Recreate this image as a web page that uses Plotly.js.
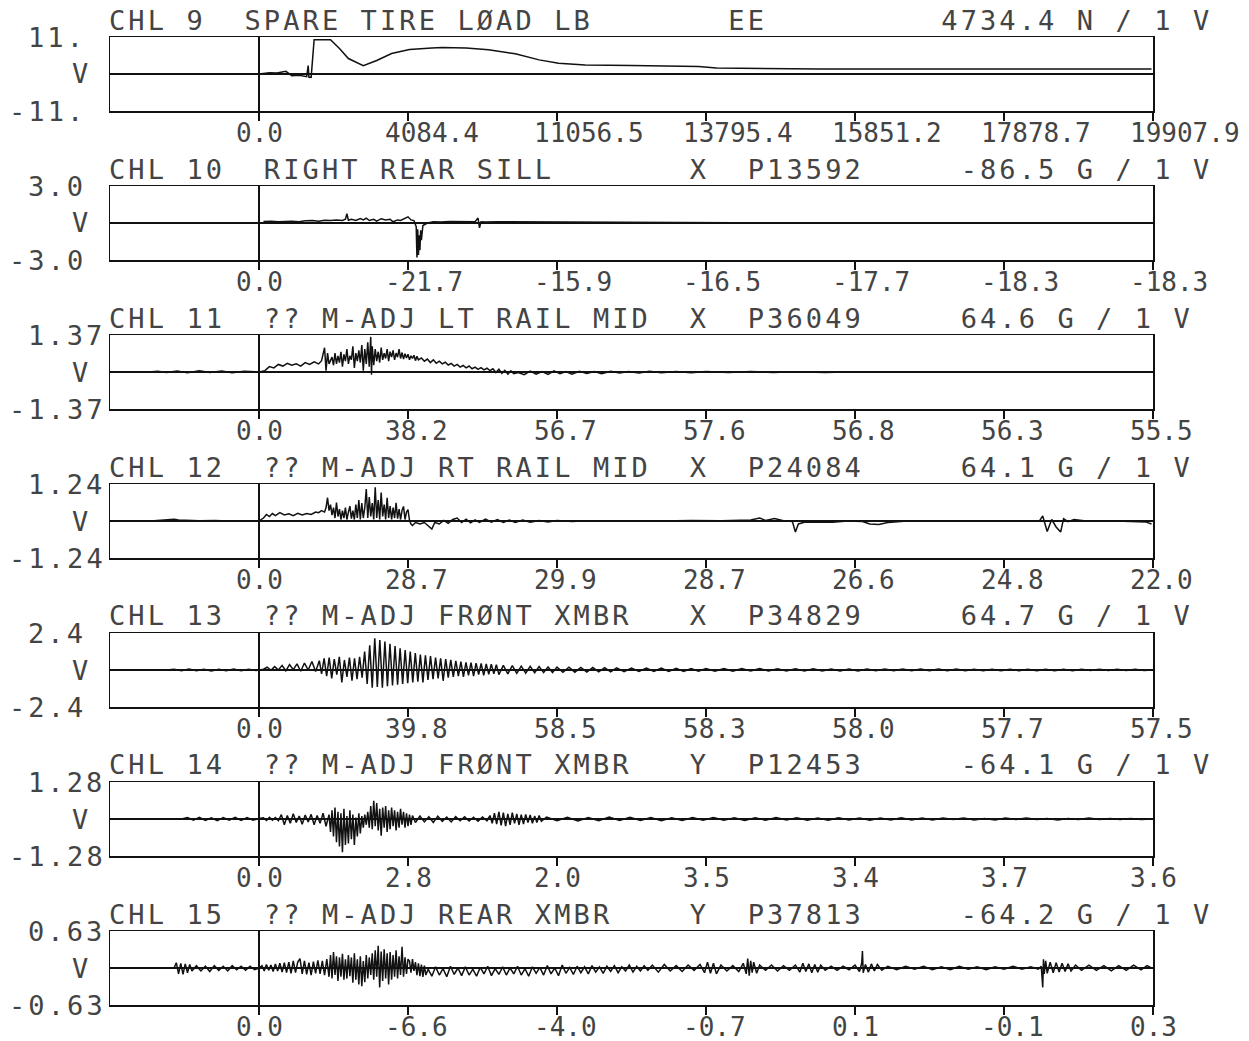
<!DOCTYPE html>
<html><head><meta charset="utf-8">
<script src="https://cdn.plot.ly/plotly-3.0.1.min.js"></script>
<style>
html,body{margin:0;padding:0;background:#fff;}
#chart{width:1249px;height:1041px;}
</style></head><body><div id="chart"></div>
<script>
// ---------------- DATA ----------------
const ch9X = [0, 0.07, 0.12, 0.18, 0.22, 0.27, 0.32, 0.33, 0.335, 0.34, 0.35, 0.37, 0.40, 0.48, 0.54, 0.60, 0.70, 0.79, 0.89, 1.01, 1.16, 1.23, 1.39, 1.54, 1.72, 1.88, 2.01, 2.19, 2.50, 2.95, 3.07, 3.76, 4.50, 5.99];
const ch9Y = [0, 0.4, 0.3, 0.8, -0.5, -0.4, -0.8, 2.5, -1.1, -0.9, -1.0, 10.2, 10.2, 10.2, 7.6, 4.6, 2.5, 4.0, 6.1, 7.3, 7.7, 7.9, 7.7, 7.2, 6.0, 4.2, 3.2, 2.7, 2.5, 2.2, 1.8, 1.5, 1.5, 1.5];

const ch10X = [0.03, 0.08, 0.13, 0.18, 0.22, 0.27, 0.31, 0.36, 0.40, 0.44,
 0.48, 0.52, 0.56, 0.58, 0.59, 0.60, 0.62, 0.65, 0.68, 0.70,
 0.72, 0.74, 0.77, 0.79, 0.82, 0.85, 0.88, 0.90, 0.93, 0.95,
 0.98, 1.00, 1.02, 1.04, 1.055, 1.06, 1.065, 1.07, 1.075, 1.08,
 1.085, 1.09, 1.10, 1.13, 1.17, 1.22, 1.28, 1.34, 1.40, 1.45,
 1.47, 1.48, 1.49, 1.52, 1.60, 1.75, 1.90, 2.10, 2.30, 2.55,
 2.80, 3.20, 3.60, 4.50, 5.99];
const ch10Y = [0.12, 0.15, 0.10, 0.12, 0.15, 0.10, 0.18, 0.20, 0.15, 0.22,
 0.20, 0.25, 0.20, 0.30, 0.75, 0.22, 0.30, 0.20, 0.35, 0.25,
 0.40, 0.20, 0.30, 0.15, 0.35, 0.25, 0.30, 0.10, 0.25, 0.20,
 0.35, 0.50, 0.25, 0.20, -0.30, -2.80, -0.50, -2.60, -1.00, -2.20,
 -0.60, -1.40, -0.20, 0.00, 0.10, 0.08, 0.12, 0.10, 0.12, 0.10,
 0.40, -0.40, 0.10, 0.08, 0.10, 0.10, 0.08, 0.08, 0.06, 0.06,
 0.04, 0.03, 0.02, 0.02, 0.02];

const ch11X = [-1.0, -0.74, -0.68, -0.62, -0.55, -0.48, -0.40, -0.33, -0.25, -0.18, -0.10, -0.04, 0.0,
 0.04, 0.07, 0.10, 0.13, 0.16, 0.19, 0.22, 0.25, 0.28, 0.31, 0.34, 0.37, 0.40, 0.42, 0.44, 0.45, 0.46, 0.47,
 0.49, 0.50, 0.51, 0.52, 0.53, 0.54, 0.55, 0.56, 0.57, 0.58, 0.59, 0.60, 0.61, 0.62, 0.63, 0.64, 0.65, 0.66, 0.67, 0.68, 0.69, 0.70, 0.71, 0.72, 0.73, 0.74, 0.75, 0.755,
 0.76, 0.77, 0.78, 0.79, 0.80, 0.81, 0.82, 0.83, 0.84, 0.85, 0.86, 0.87, 0.88, 0.89, 0.90, 0.91, 0.92, 0.93, 0.94, 0.95, 0.96, 0.97, 0.98, 0.99, 1.00, 1.01, 1.02, 1.03, 1.04, 1.05, 1.06, 1.07,
 1.09, 1.11, 1.13, 1.15, 1.17, 1.19, 1.21, 1.23, 1.25, 1.27, 1.29, 1.31, 1.33, 1.35, 1.37, 1.39, 1.41, 1.43, 1.45, 1.47, 1.49, 1.51, 1.53, 1.55, 1.57, 1.59, 1.61, 1.63, 1.65, 1.67, 1.69, 1.71,
 1.74, 1.78, 1.82, 1.86, 1.90, 1.94, 1.98, 2.02, 2.06, 2.10, 2.15, 2.20, 2.25, 2.30, 2.36, 2.42, 2.48, 2.55, 2.62, 2.70, 2.80, 2.90, 3.00, 3.15, 3.30, 3.45, 3.60, 3.80, 4.00, 4.25, 4.50, 4.75, 5.00, 5.30, 5.60, 5.99];
const ch11Y = [0, 0, 0.03, -0.02, 0.04, -0.03, 0.05, -0.02, 0.04, -0.03, 0.03, 0.02, 0,
 0.05, 0.20, 0.15, 0.28, 0.22, 0.32, 0.25, 0.30, 0.22, 0.35, 0.28, 0.38, 0.30, 0.42, 0.90, 0.05, 0.70, 0.30,
 0.55, 0.25, 0.70, 0.30, 0.60, 0.35, 0.75, 0.20, 0.65, 0.40, 0.85, 0.30, 0.60, 0.45, 0.95, 0.15, 0.70, 0.40, 0.80, 0.35, 1.00, 0.05, 0.85, 0.30, 1.10, 0.20, 1.30, -0.10,
 0.95, 0.25, 0.85, 0.40, 0.75, 0.35, 0.90, 0.45, 0.70, 0.50, 0.85, 0.40, 0.75, 0.55, 0.80, 0.45, 0.70, 0.55, 0.85, 0.50, 0.72, 0.48, 0.68, 0.52, 0.66, 0.45, 0.60, 0.50, 0.62, 0.42, 0.58, 0.45,
 0.52, 0.40, 0.48, 0.35, 0.45, 0.32, 0.40, 0.30, 0.36, 0.26, 0.32, 0.22, 0.28, 0.18, 0.24, 0.15, 0.22, 0.12, 0.18, 0.10, 0.16, 0.08, 0.14, 0.05, 0.12, -0.02, 0.10, -0.05, 0.06, -0.08, 0.04, -0.06,
 -0.02, -0.10, 0.03, -0.08, 0.02, -0.09, 0.04, -0.06, 0.02, -0.08, 0.03, -0.05, 0.02, -0.06, 0.03, -0.04, 0.02, -0.04, 0.03, -0.03, 0.02, -0.03, 0.02, -0.02, 0.02, -0.02, 0.01, -0.02, 0.01, -0.01, 0.01, -0.01, 0.01, -0.01, 0.01, 0];

const ch12X = [-1.0, -0.85, -0.75, -0.65, -0.60, -0.57, -0.54, -0.48, -0.40, -0.30, -0.20, -0.10, 0.0,
 0.03, 0.05, 0.07, 0.09, 0.11, 0.14, 0.17, 0.20, 0.23, 0.26, 0.29, 0.32, 0.35, 0.38, 0.40, 0.42, 0.44, 0.45,
 0.46, 0.47, 0.48, 0.49, 0.50, 0.51, 0.52, 0.53, 0.54, 0.55, 0.56, 0.57, 0.58, 0.59, 0.60, 0.61, 0.62, 0.63, 0.64, 0.65,
 0.66, 0.67, 0.68, 0.69, 0.70, 0.71, 0.72, 0.73, 0.74, 0.75, 0.76, 0.77, 0.78, 0.79, 0.80, 0.81, 0.82, 0.83, 0.84, 0.85,
 0.86, 0.87, 0.88, 0.89, 0.90, 0.91, 0.92, 0.93, 0.94, 0.95, 0.96, 0.97, 0.98, 0.99, 1.00, 1.01, 1.02, 1.03,
 1.05, 1.08, 1.11, 1.14, 1.16, 1.18, 1.21, 1.24, 1.27, 1.30, 1.33, 1.36, 1.39, 1.42, 1.45, 1.48, 1.52, 1.56, 1.60, 1.64,
 1.68, 1.72, 1.77, 1.82, 1.88, 1.94, 2.00, 2.10, 2.20, 2.35, 2.50, 2.70, 2.90, 3.10, 3.30, 3.36, 3.40, 3.46, 3.52, 3.58,
 3.60, 3.62, 3.66, 3.75, 3.85, 3.95, 4.05, 4.10, 4.16, 4.22, 4.35, 4.60, 4.90, 5.10, 5.24, 5.26, 5.29, 5.32, 5.35, 5.38,
 5.40, 5.43, 5.47, 5.55, 5.70, 5.85, 5.95, 5.99];
const ch12Y = [0, 0.01, -0.01, 0.02, 0.04, 0.06, 0.03, 0.02, 0.01, 0.02, 0.0, 0.01, 0.0,
 0.10, 0.22, 0.15, 0.25, 0.18, 0.28, 0.20, 0.24, 0.18, 0.26, 0.20, 0.25, 0.22, 0.30, 0.28, 0.35, 0.30, 0.45,
 0.78, 0.35, 0.55, 0.20, 0.45, 0.10, 0.62, 0.15, 0.40, 0.05, 0.35, 0.10, 0.45, 0.05, 0.30, 0.50, 0.08, 0.35, 0.05, 0.55,
 0.10, 0.70, 0.05, 0.60, 0.10, 0.45, 1.07, 0.10, 0.80, 0.15, 0.60, 0.05, 1.13, 0.10, 0.70, 0.05, 0.95, 0.15, 0.55, 0.05,
 0.78, 0.10, 0.50, 0.05, 0.45, 0.10, 0.61, 0.08, 0.40, 0.05, 0.35, 0.49, 0.05, 0.30, 0.38, 0.02, -0.10, -0.15,
 -0.05, -0.10, -0.05, -0.18, -0.27, -0.05, -0.10, 0.02, -0.08, 0.05, 0.10, -0.05, 0.06, -0.06, 0.04, -0.05, 0.06, -0.04, 0.05, -0.05,
 0.03, -0.05, 0.03, -0.04, 0.02, -0.03, 0.02, -0.02, 0.01, -0.01, 0.01, 0.00, 0.02, 0.01, 0.03, 0.10, 0.02, 0.08, 0.01, -0.02,
 -0.37, -0.10, -0.04, -0.03, -0.04, 0.00, -0.02, -0.10, -0.12, -0.05, 0.00, 0.01, 0.00, 0.01, 0.02, 0.17, -0.35, 0.05, -0.20, -0.37,
 0.08, -0.02, 0.05, 0.00, 0.01, 0.00, -0.03, -0.10];

const ch13X = [-1.0, -0.62, -0.57, -0.52, -0.47, -0.42, -0.37, -0.32, -0.27, -0.22, -0.17, -0.12, -0.07, -0.02, 0.0,
 0.03, 0.055, 0.08, 0.105, 0.13, 0.155, 0.18, 0.205, 0.23, 0.255, 0.28, 0.305, 0.33, 0.355, 0.38, 0.405,
 0.42, 0.437, 0.454, 0.471, 0.488, 0.505, 0.522, 0.539, 0.556, 0.573, 0.59, 0.607, 0.624, 0.641, 0.658, 0.675, 0.692,
 0.709, 0.726, 0.743, 0.76, 0.777, 0.794, 0.811, 0.828, 0.845, 0.862, 0.879, 0.896, 0.913, 0.93, 0.947, 0.964, 0.981, 0.998,
 1.015, 1.032, 1.049, 1.066, 1.083, 1.10, 1.117, 1.134, 1.151, 1.168, 1.185, 1.202, 1.219, 1.236, 1.253, 1.27, 1.287, 1.304,
 1.321, 1.338, 1.355, 1.372, 1.389, 1.406, 1.423, 1.44, 1.457, 1.474, 1.491, 1.508, 1.525, 1.542, 1.559, 1.576, 1.593, 1.61,
 1.64, 1.67, 1.70, 1.73, 1.76, 1.79, 1.82, 1.85, 1.88, 1.91, 1.94, 1.97, 2.00, 2.04, 2.08, 2.12, 2.16, 2.20, 2.24, 2.28,
 2.32, 2.36, 2.40, 2.45, 2.50, 2.55, 2.60, 2.65, 2.70, 2.75, 2.80, 2.85, 2.90, 2.95, 3.00, 3.06, 3.12, 3.18, 3.24, 3.30,
 3.36, 3.42, 3.48, 3.54, 3.60, 3.66, 3.72, 3.78, 3.84, 3.90, 3.96, 4.02, 4.08, 4.14, 4.20, 4.26, 4.32, 4.38, 4.44, 4.50,
 4.56, 4.62, 4.68, 4.74, 4.80, 4.86, 4.92, 4.98, 5.04, 5.10, 5.16, 5.22, 5.28, 5.34, 5.40, 5.46, 5.52, 5.58, 5.64, 5.70,
 5.76, 5.82, 5.88, 5.94, 5.99];
const ch13Y = [0, 0, 0.05, -0.04, 0.06, -0.05, 0.04, -0.06, 0.05, -0.04, 0.06, -0.05, 0.04, -0.03, 0,
 0.05, 0.18, -0.02, 0.22, 0.0, 0.30, -0.05, 0.35, 0.02, 0.40, -0.08, 0.45, 0.0, 0.55, -0.10, 0.60,
 -0.25, 0.75, -0.40, 0.80, -0.55, 0.70, -0.30, 0.85, -0.80, 0.65, -0.45, 0.80, -0.70, 0.75, -0.60, 0.85, -0.50,
 1.20, -0.90, 1.60, -1.15, 2.05, -1.10, 1.95, -1.15, 1.85, -1.05, 1.70, -1.00, 1.55, -0.95, 1.40, -0.90, 1.30, -0.85,
 1.20, -0.80, 1.10, -0.75, 1.00, -0.80, 0.95, -0.65, 0.90, -0.60, 0.80, -0.55, 0.75, -0.70, 0.70, -0.50, 0.65, -0.45,
 0.60, -0.40, 0.55, -0.45, 0.50, -0.35, 0.48, -0.40, 0.45, -0.30, 0.42, -0.35, 0.40, -0.28, 0.38, -0.25, 0.35, -0.30,
 0.30, -0.25, 0.28, -0.22, 0.25, -0.20, 0.24, -0.18, 0.22, -0.17, 0.20, -0.16, 0.19, -0.15, 0.18, -0.14, 0.17, -0.13, 0.16, -0.12,
 0.15, -0.12, 0.14, -0.11, 0.13, -0.10, 0.12, -0.10, 0.12, -0.09, 0.11, -0.09, 0.10, -0.08, 0.10, -0.08, 0.09, -0.08, 0.09, -0.07,
 0.09, -0.07, 0.08, -0.07, 0.08, -0.06, 0.08, -0.06, 0.07, -0.06, 0.07, -0.06, 0.07, -0.05, 0.07, -0.05, 0.06, -0.05, 0.06, -0.05,
 0.06, -0.05, 0.06, -0.04, 0.05, -0.04, 0.05, -0.04, 0.05, -0.04, 0.05, -0.04, 0.05, -0.04, 0.04, -0.04, 0.04, -0.03, 0.04, -0.03,
 0.04, -0.03, 0.04, -0.03, 0.0];

const ch14X = [-1.0, -0.52, -0.48, -0.44, -0.40, -0.36, -0.32, -0.28, -0.24, -0.20, -0.16, -0.12, -0.08, -0.04, 0.0,
 0.03, 0.05, 0.07, 0.09, 0.11, 0.13, 0.15, 0.17, 0.19, 0.21, 0.23, 0.25, 0.27, 0.29, 0.31, 0.33, 0.35, 0.37, 0.39, 0.41, 0.43, 0.45, 0.47,
 0.48, 0.49, 0.50, 0.51, 0.52, 0.53, 0.54, 0.55, 0.56, 0.57, 0.58, 0.59, 0.60, 0.61, 0.62, 0.63, 0.64, 0.65, 0.66, 0.67, 0.68, 0.69, 0.70,
 0.71, 0.72, 0.73, 0.74, 0.75, 0.76, 0.77, 0.78, 0.79, 0.80, 0.81, 0.82, 0.83, 0.84, 0.85, 0.86, 0.87, 0.88, 0.89, 0.90,
 0.91, 0.92, 0.93, 0.94, 0.95, 0.96, 0.97, 0.98, 0.99, 1.00, 1.01, 1.02, 1.03,
 1.05, 1.08, 1.11, 1.14, 1.17, 1.20, 1.23, 1.26, 1.29, 1.32, 1.35, 1.38, 1.41, 1.44, 1.47, 1.50, 1.53,
 1.55, 1.565, 1.58, 1.595, 1.61, 1.625, 1.64, 1.655, 1.67, 1.685, 1.70, 1.715, 1.73, 1.745, 1.76, 1.775, 1.79, 1.805, 1.82, 1.835, 1.85, 1.865, 1.88, 1.895,
 1.93, 2.00, 2.07, 2.14, 2.21, 2.28, 2.35, 2.42, 2.49, 2.56, 2.63, 2.70, 2.77, 2.84, 2.91, 2.98, 3.05, 3.12, 3.19, 3.26,
 3.33, 3.40, 3.47, 3.54, 3.61, 3.68, 3.75, 3.82, 3.89, 3.96, 4.03, 4.10, 4.17, 4.24, 4.31, 4.38, 4.45, 4.52, 4.59, 4.66,
 4.73, 4.80, 4.87, 4.94, 5.01, 5.08, 5.15, 5.22, 5.29, 5.36, 5.43, 5.50, 5.57, 5.64, 5.71, 5.78, 5.85, 5.92, 5.99];
const ch14Y = [0, 0, 0.05, -0.04, 0.06, -0.05, 0.04, -0.06, 0.05, -0.04, 0.06, -0.05, 0.05, -0.04, 0.02,
 0.04, -0.05, 0.06, -0.04, 0.05, -0.06, 0.15, -0.20, 0.12, -0.15, 0.18, -0.12, 0.10, -0.18, 0.14, -0.10, 0.16, -0.20, 0.12, -0.15, 0.20, -0.25, 0.15,
 -0.45, 0.30, -0.60, 0.40, -0.80, 0.25, -0.95, 0.20, -1.15, 0.35, -0.90, 0.10, -0.85, 0.30, -0.70, 0.15, -0.90, 0.05, -0.60, 0.20, -0.50, 0.10, -0.30,
 0.15, -0.20, 0.25, -0.30, 0.45, -0.35, 0.63, -0.25, 0.55, -0.40, 0.35, -0.58, 0.40, -0.30, 0.45, -0.45, 0.30, -0.35, 0.40, -0.25,
 0.30, -0.40, 0.25, -0.30, 0.35, -0.20, 0.25, -0.30, 0.20, -0.25, 0.15, -0.20, 0.12,
 -0.12, 0.10, -0.10, 0.08, -0.12, 0.10, -0.08, 0.07, -0.10, 0.08, -0.06, 0.08, -0.07, 0.06, -0.08, 0.07, -0.06,
 0.12, -0.15, 0.20, -0.18, 0.25, -0.22, 0.22, -0.25, 0.18, -0.20, 0.22, -0.15, 0.18, -0.20, 0.15, -0.18, 0.16, -0.12, 0.14, -0.15, 0.10, -0.12, 0.12, -0.08,
 0.07, -0.06, 0.06, -0.07, 0.05, -0.06, 0.07, -0.05, 0.06, -0.05, 0.05, -0.06, 0.04, -0.05, 0.05, -0.04, 0.05, -0.04, 0.04, -0.05,
 0.04, -0.04, 0.05, -0.03, 0.04, -0.04, 0.03, -0.04, 0.04, -0.03, 0.03, -0.04, 0.03, -0.03, 0.04, -0.03, 0.03, -0.03, 0.03, -0.02,
 0.03, -0.03, 0.02, -0.03, 0.03, -0.02, 0.03, -0.02, 0.02, -0.03, 0.02, -0.02, 0.03, -0.02, 0.02, -0.02, 0.02, -0.02, 0.0];

const ch15X = [-1.0, -0.57, -0.555, -0.54, -0.525, -0.51, -0.495, -0.48, -0.465, -0.45, -0.42, -0.39, -0.36, -0.33, -0.30, -0.27, -0.24, -0.21, -0.18, -0.15, -0.12, -0.09, -0.06, -0.03, 0.0,
 0.02, 0.035, 0.05, 0.065, 0.08, 0.095, 0.11, 0.125, 0.14, 0.155, 0.17, 0.185, 0.20, 0.215, 0.23, 0.245, 0.26, 0.275, 0.29, 0.305, 0.32, 0.335, 0.35, 0.365, 0.38, 0.395, 0.41, 0.425, 0.44, 0.455,
 0.47, 0.48, 0.49, 0.50, 0.51, 0.52, 0.53, 0.54, 0.55, 0.56, 0.57, 0.58, 0.59, 0.60, 0.61, 0.62, 0.63, 0.64, 0.65, 0.66, 0.67, 0.68, 0.69, 0.70, 0.71, 0.72, 0.73,
 0.74, 0.75, 0.76, 0.77, 0.78, 0.79, 0.80, 0.81, 0.82, 0.83, 0.84, 0.85, 0.86, 0.87, 0.88, 0.89, 0.90, 0.91, 0.92, 0.93, 0.94, 0.95, 0.96, 0.97, 0.98, 0.99, 1.00,
 1.01, 1.02, 1.03, 1.04, 1.05, 1.06, 1.07, 1.08, 1.09, 1.10, 1.11, 1.12,
 1.135, 1.16, 1.185, 1.21, 1.235, 1.26, 1.285, 1.31, 1.335, 1.36, 1.385, 1.41, 1.435, 1.46, 1.485, 1.51, 1.535, 1.56, 1.585, 1.61,
 1.635, 1.66, 1.685, 1.71, 1.735, 1.76, 1.785, 1.81, 1.835, 1.86, 1.885, 1.91, 1.935, 1.96, 1.985, 2.01, 2.035, 2.06, 2.085, 2.11,
 2.135, 2.16, 2.185, 2.21, 2.235, 2.26, 2.285, 2.31, 2.335, 2.36, 2.385, 2.41, 2.435, 2.46, 2.485, 2.51, 2.535, 2.56, 2.585, 2.61,
 2.64, 2.68, 2.72, 2.76, 2.80, 2.84, 2.88, 2.92, 2.96, 2.99, 3.01, 3.03, 3.05, 3.07, 3.10, 3.14, 3.18, 3.22, 3.25, 3.27,
 3.28, 3.29, 3.30, 3.31, 3.32, 3.34, 3.36, 3.40, 3.44, 3.48, 3.52, 3.56, 3.60, 3.63, 3.65, 3.67, 3.69, 3.71, 3.73, 3.75,
 3.77, 3.80, 3.84, 3.88, 3.92, 3.96, 4.00, 4.03, 4.045, 4.05, 4.055, 4.07, 4.09, 4.11, 4.13, 4.15, 4.18, 4.22, 4.28, 4.34,
 4.40, 4.46, 4.52, 4.58, 4.64, 4.70, 4.76, 4.82, 4.88, 4.94, 5.00, 5.06, 5.12, 5.18, 5.23, 5.25, 5.26, 5.265, 5.27, 5.28,
 5.29, 5.31, 5.33, 5.35, 5.37, 5.39, 5.41, 5.43, 5.45, 5.48, 5.52, 5.57, 5.62, 5.67, 5.72, 5.77, 5.82, 5.87, 5.92, 5.96, 5.99];
const ch15Y = [0, 0, 0.09, -0.10, 0.08, -0.11, 0.07, -0.08, 0.06, -0.05, 0.04, -0.05, 0.03, -0.06, 0.04, -0.04, 0.03, -0.05, 0.04, -0.03, 0.03, -0.04, 0.03, -0.03, 0.0,
 0.04, -0.05, 0.06, -0.04, 0.05, -0.06, 0.07, -0.05, 0.08, -0.07, 0.09, -0.08, 0.10, -0.09, 0.12, -0.08, 0.10, 0.16, -0.10, 0.12, -0.11, 0.09, -0.12, 0.11, -0.09, 0.13, -0.10, 0.12, -0.12, 0.15,
 -0.15, 0.22, -0.18, 0.27, -0.12, 0.20, -0.22, 0.18, -0.15, 0.24, -0.20, 0.15, -0.18, 0.22, -0.14, 0.18, -0.25, 0.25, -0.20, 0.15, -0.28, 0.20, -0.31, 0.12, -0.24, 0.22, -0.18,
 0.18, -0.12, 0.25, -0.20, 0.30, -0.15, 0.38, -0.33, 0.28, -0.22, 0.32, -0.18, 0.25, -0.28, 0.27, -0.20, 0.22, -0.15, 0.30, -0.18, 0.20, -0.12, 0.36, -0.15, 0.18, -0.10, 0.15,
 0.12, -0.08, 0.15, -0.05, 0.10, -0.12, 0.08, -0.14, 0.06, -0.15, 0.04, -0.12,
 -0.02, -0.14, 0.02, -0.12, -0.01, -0.15, 0.03, -0.11, 0.00, -0.13, 0.02, -0.12, -0.02, -0.14, 0.01, -0.10, 0.03, -0.13, -0.01, -0.11,
 0.02, -0.12, 0.00, -0.10, 0.03, -0.12, -0.01, -0.14, 0.02, -0.09, 0.01, -0.12, 0.04, -0.10, 0.00, -0.13, 0.05, -0.09, 0.01, -0.11,
 0.03, -0.08, 0.02, -0.10, 0.04, -0.07, 0.02, -0.09, 0.03, -0.06, 0.04, -0.08, 0.02, -0.05, 0.05, -0.07, 0.03, -0.05, 0.04, -0.04,
 0.05, -0.07, 0.06, -0.05, 0.04, -0.06, 0.05, -0.04, 0.06, -0.08, 0.10, -0.09, 0.08, -0.10, 0.05, -0.05, 0.04, -0.06, 0.08, -0.10,
 0.16, -0.13, 0.12, -0.08, 0.10, -0.09, 0.05, -0.04, 0.05, -0.05, 0.04, -0.04, 0.05, -0.07, 0.08, -0.06, 0.07, -0.08, 0.06, -0.07,
 0.05, -0.04, 0.03, -0.04, 0.03, -0.03, 0.05, -0.06, 0.08, 0.29, -0.08, 0.06, -0.07, 0.07, -0.05, 0.06, -0.04, 0.03, -0.03, 0.03,
 -0.02, 0.03, -0.03, 0.02, -0.03, 0.03, -0.02, 0.02, -0.03, 0.02, -0.02, 0.03, -0.02, 0.02, -0.02, 0.03, -0.33, 0.15, -0.10, 0.12,
 -0.09, 0.10, -0.08, 0.09, -0.07, 0.08, -0.06, 0.07, -0.05, 0.05, -0.04, 0.05, -0.04, 0.04, -0.05, 0.04, -0.04, 0.05, -0.03, 0.04, 0.0];

// x tick labels (values printed under each tick)
const ch9Ticks  = ['0.0', '4084.4', '11056.5', '13795.4', '15851.2', '17878.7', '19907.9'];
const ch10Ticks = ['0.0', '-21.7', '-15.9', '-16.5', '-17.7', '-18.3', '-18.3'];
const ch11Ticks = ['0.0', '38.2', '56.7', '57.6', '56.8', '56.3', '55.5'];
const ch12Ticks = ['0.0', '28.7', '29.9', '28.7', '26.6', '24.8', '22.0'];
const ch13Ticks = ['0.0', '39.8', '58.5', '58.3', '58.0', '57.7', '57.5'];
const ch14Ticks = ['0.0', '2.8', '2.0', '3.5', '3.4', '3.7', '3.6'];
const ch15Ticks = ['0.0', '-6.6', '-4.0', '-0.7', '0.1', '-0.1', '0.3'];
const tickPos   = [0, 1, 2, 3, 4, 5, 6];

// channel header fields
const chNames   = ['CHL 9', 'CHL 10', 'CHL 11', 'CHL 12', 'CHL 13', 'CHL 14', 'CHL 15'];
const chDescs   = ['SPARE TIRE LØAD LB', 'RIGHT REAR SILL', '?? M-ADJ LT RAIL MID', '?? M-ADJ RT RAIL MID', '?? M-ADJ FRØNT XMBR', '?? M-ADJ FRØNT XMBR', '?? M-ADJ REAR XMBR'];
const chAxes    = ['EE', 'X', 'X', 'X', 'X', 'Y', 'Y'];
const chSerials = ['', 'P13592', 'P36049', 'P24084', 'P34829', 'P12453', 'P37813'];
const chScales  = ['4734.4 N / 1 V', '-86.5 G / 1 V', '64.6 G / 1 V', '64.1 G / 1 V', '64.7 G / 1 V', '-64.1 G / 1 V', '-64.2 G / 1 V'];
const chLimits  = [11, 3.0, 1.37, 1.24, 2.4, 1.28, 0.63];
const chTopLbl  = ['11.', '3.0', '1.37', '1.24', '2.4', '1.28', '0.63'];
const chBotLbl  = ['-11.', '-3.0', '-1.37', '-1.24', '-2.4', '-1.28', '-0.63'];

// ---------------- LAYOUT ----------------
const L = 110, R = 1153, T = 37, B = 1005;
const PW = R - L, PH = B - T;
const px2x = p => (p - L) / PW;
const py2y = p => (B - p) / PH;
const NB = '\u00A0';
const FONT = 'DejaVu Sans Mono';
const INK = '#111';
const TXT = '#444';
const spaced = t => '<span style="letter-spacing:3.1px">' + t + '</span>';

const xs = [ch9X, ch10X, ch11X, ch12X, ch13X, ch14X, ch15X];
const ys = [ch9Y, ch10Y, ch11Y, ch12Y, ch13Y, ch14Y, ch15Y];
const tks = [ch9Ticks, ch10Ticks, ch11Ticks, ch12Ticks, ch13Ticks, ch14Ticks, ch15Ticks];

function header(i) {
  const parts = i === 0
    ? [[0, chNames[i]], [7, chDescs[i]], [32, chAxes[i]], [43, chScales[i]]]
    : [[0, chNames[i]], [8, chDescs[i]], [30, chAxes[i]], [33, chSerials[i]], [44, chScales[i]]];
  let s = '';
  parts.forEach(([c, t]) => { while (s.length < c) s += ' '; s += t; });
  return s.replace(/ /g, NB);
}

const traces = [];
const annotations = [];
const layout = {
  width: 1249, height: 1041,
  margin: {l: L, r: 1249 - R, t: T, b: 1041 - B, pad: 0},
  paper_bgcolor: '#fff', plot_bgcolor: '#fff',
  showlegend: false,
  font: {family: FONT, color: TXT}
};

for (let i = 0; i < 7; i++) {
  const s = i === 0 ? '' : String(i + 1);
  const top = T + 149 * i, bot = 111 + 149 * i, mid = (top + bot) / 2;
  traces.push({
    type: 'scatter', mode: 'lines', x: xs[i], y: ys[i],
    xaxis: 'x' + s, yaxis: 'y' + s,
    line: {color: INK, width: 1.5}, hoverinfo: 'skip'
  });
  layout['xaxis' + s] = {
    domain: [0, 1], range: [-1, 6], anchor: 'y' + s,
    showline: true, mirror: true, linecolor: INK, linewidth: 1.5,
    ticks: 'outside', ticklen: 8, tickwidth: 1.3, tickcolor: INK,
    tickvals: tickPos, showticklabels: false,
    showgrid: false, zeroline: true, zerolinecolor: INK, zerolinewidth: 1.3,
    fixedrange: true
  };
  layout['yaxis' + s] = {
    domain: [py2y(bot), py2y(top)], range: [-chLimits[i], chLimits[i]], anchor: 'x' + s,
    showline: true, mirror: true, linecolor: INK, linewidth: 1.5,
    ticks: '', showticklabels: false, showgrid: false,
    zeroline: true, zerolinecolor: INK, zerolinewidth: 1.5, fixedrange: true
  };
  // header line
  annotations.push({
    xref: 'paper', yref: 'paper', x: px2x(107), y: py2y(top - 17),
    xanchor: 'left', yanchor: 'middle', showarrow: false,
    text: spaced(header(i)), font: {family: FONT, size: 27, color: TXT}
  });
  // y labels
  const f = {family: FONT, size: 27, color: TXT};
  annotations.push({xref: 'paper', yref: 'paper', x: px2x(26), y: py2y(top), xanchor: 'left', yanchor: 'middle', showarrow: false, text: spaced(chTopLbl[i]), font: f});
  annotations.push({xref: 'paper', yref: 'paper', x: px2x(80), y: py2y(mid), xanchor: 'center', yanchor: 'middle', showarrow: false, text: 'V', font: f});
  annotations.push({xref: 'paper', yref: 'paper', x: px2x(7), y: py2y(bot), xanchor: 'left', yanchor: 'middle', showarrow: false, text: spaced(chBotLbl[i]), font: f});
  // x tick labels: printed starting just left of each tick
  tickPos.forEach((p, k) => {
    annotations.push({
      xref: 'x' + s, yref: 'paper', x: p, xshift: -25, y: py2y(bot + 22),
      xanchor: 'left', yanchor: 'middle', showarrow: false,
      text: tks[i][k], font: {family: FONT, size: 26, color: TXT}
    });
  });
}
layout.annotations = annotations;

Plotly.newPlot('chart', traces, layout, {staticPlot: true, displayModeBar: false});
</script></body></html>
